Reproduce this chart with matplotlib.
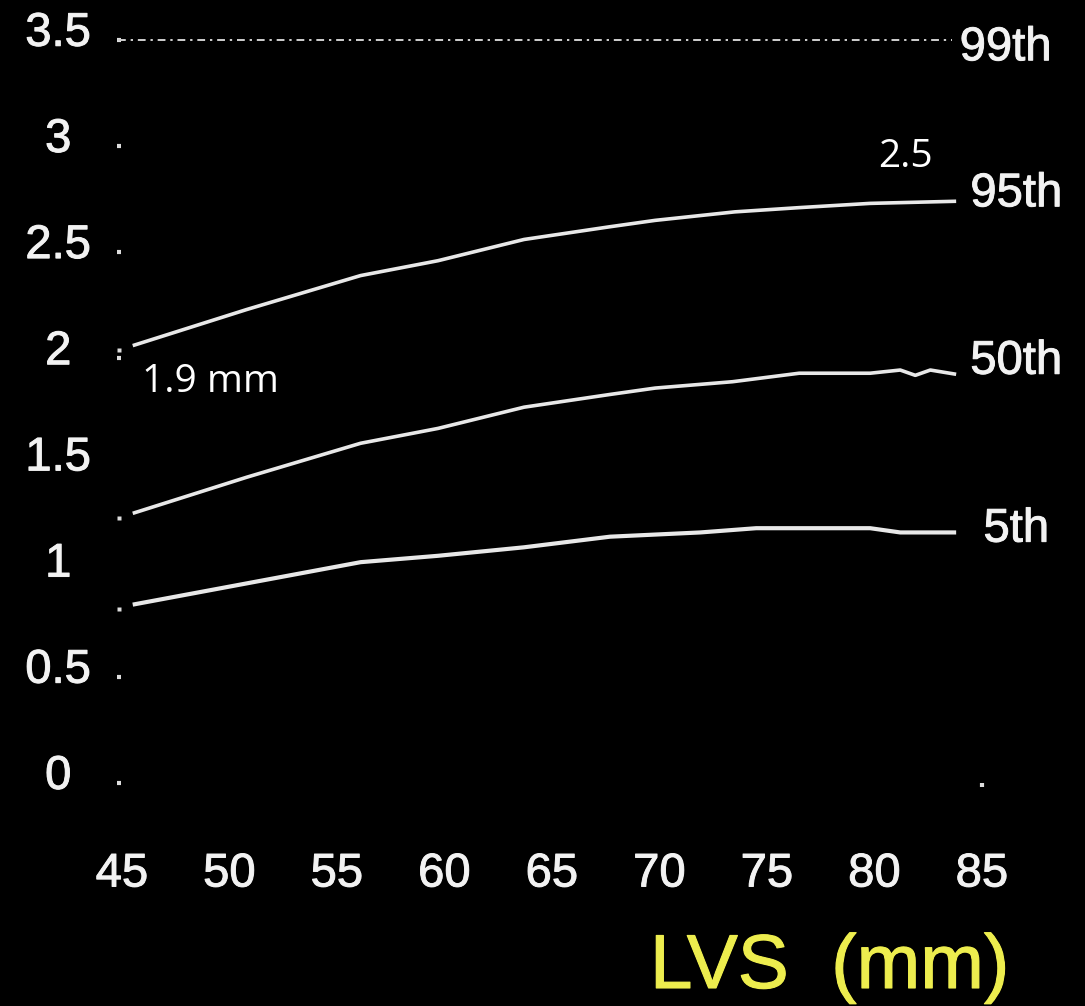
import matplotlib
matplotlib.use("Agg")
import matplotlib.pyplot as plt
import matplotlib.transforms as mtransforms
import matplotlib.patheffects as pe

plt.rcParams['font.family'] = ['Liberation Sans', 'DejaVu Sans']

# ---- data ----
x_ticks = [45, 50, 55, 60, 65, 70, 75, 80, 85]
y_ticks = [0, 0.5, 1, 1.5, 2, 2.5, 3, 3.5]
y_tick_labels = ["0", "0.5", "1", "1.5", "2", "2.5", "3", "3.5"]
y_dot_ticks = [0, 0.5, 2, 2.5, 3, 3.5]

lvs_95 = [45.5, 50.8, 56.1, 59.7, 63.7, 67.7, 69.8, 73.5, 76.5, 79.8, 83.8]
p95 = [2.06, 2.23, 2.39, 2.46, 2.56, 2.62, 2.65, 2.69, 2.71, 2.73, 2.74]

lvs_50 = [45.5, 50.8, 56.1, 59.7, 63.7, 67.7, 69.8, 73.4, 76.5, 79.8, 81.2, 81.9, 82.6, 83.8]
p50 = [1.27, 1.44, 1.60, 1.67, 1.77, 1.83, 1.86, 1.89, 1.93, 1.93, 1.945, 1.92, 1.945, 1.925]

lvs_5 = [45.5, 50.8, 56.1, 59.7, 63.7, 67.7, 69.8, 71.9, 74.5, 79.8, 81.2, 83.8]
p5 = [0.84, 0.94, 1.04, 1.07, 1.11, 1.16, 1.17, 1.18, 1.20, 1.20, 1.18, 1.18]

lvs_99 = [44.8, 83.6]
p99 = [3.5, 3.5]

series_labels = ["99th", "95th", "50th", "5th"]
note_low = "1.9 mm"
note_high = "2.5"
x_title = "LVS  (mm)"

# ---- figure ----
W, H = 1085, 1006
fig = plt.figure(figsize=(W / 100, H / 100), dpi=100, facecolor="black")
ax = fig.add_axes([116.6 / W, 1 - 787.2 / H, 876.1 / W, (787.2 - 29.3) / H])
ax.set_facecolor("black")
ax.set_xlim(44.75, 85.5)
ax.set_ylim(-0.02, 3.55)
for s in ax.spines.values():
    s.set_visible(False)

line_col = "#e8e8e8"
ax.plot(lvs_95, p95, color=line_col, lw=2.6, solid_capstyle="butt", solid_joinstyle="round")
ax.plot(lvs_50, p50, color=line_col, lw=2.6, solid_capstyle="butt", solid_joinstyle="round")
ax.plot(lvs_5, p5, color=line_col, lw=3.0, solid_capstyle="butt", solid_joinstyle="round")
ax.plot(lvs_99, p99, color="#d0d0d0", lw=1.4, linestyle=(0, (4, 2.5, 1.2, 2.5)))

# small dots at the start of each curve
for p in (p95, p50, p5):
    ax.plot([44.85], [p[0] - 0.02], marker="s", ms=2.5, color="#dddddd", mec="none")

glow = [pe.withStroke(linewidth=0.7, foreground="#eeeeee")]

# ticks
ax.xaxis.remove_overlapping_locs = False
ax.yaxis.remove_overlapping_locs = False
ax.set_xticks(x_ticks)
ax.set_xticklabels([str(v) for v in x_ticks])
ax.set_yticks(y_ticks)
ax.set_yticklabels(y_tick_labels)
ax.set_yticks(y_dot_ticks, minor=True)
ax.set_xticks([85], minor=True)
ax.tick_params(axis="both", which="major", length=0, colors="#f2f2f2", labelsize=34)
ax.tick_params(axis="x", which="major", pad=47)
ax.tick_params(axis="y", which="major", pad=42)
ax.tick_params(axis="both", which="minor", length=3, width=3, direction="in",
               color="#dddddd", left=True, bottom=True)
for lab in ax.get_yticklabels():
    lab.set_horizontalalignment("center")
    lab.set_transform(lab.get_transform() + mtransforms.ScaledTranslation(0, 8 / 72, fig.dpi_scale_trans))
    lab.set_path_effects(glow)
for lab in ax.get_xticklabels():
    lab.set_path_effects(glow)

# right-hand percentile labels
lab_kw = dict(color="#f2f2f2", fontsize=34, va="center", ha="center", clip_on=False, path_effects=glow)
ax.text(86.1, p99[-1], series_labels[0], transform=ax.transData + mtransforms.ScaledTranslation(0, -6 / 72, fig.dpi_scale_trans), **lab_kw)
ax.text(86.6, p95[-1], series_labels[1], transform=ax.transData + mtransforms.ScaledTranslation(0, 5 / 72, fig.dpi_scale_trans), **lab_kw)
ax.text(86.6, p50[-1], series_labels[2], transform=ax.transData + mtransforms.ScaledTranslation(0, 9 / 72, fig.dpi_scale_trans), **lab_kw)
ax.text(86.6, p5[-1], series_labels[3], transform=ax.transData + mtransforms.ScaledTranslation(0, 2 / 72, fig.dpi_scale_trans), **lab_kw)

# annotations
ax.text(45.93, 1.889, note_low, color="white", fontsize=28, family=["Open Sans", "DejaVu Sans"],
        ha="left", va="center")
ax.text(80.16, 2.949, note_high, color="white", fontsize=28, family=["Open Sans", "DejaVu Sans"],
        ha="left", va="center")

fig.text(650 / W, 1 - 988 / H, x_title, color="#eded4e", fontsize=55, ha="left", va="baseline",
         path_effects=[pe.withStroke(linewidth=0.8, foreground="#eded4e")])

fig.savefig("out.png", dpi=100, facecolor="black")
